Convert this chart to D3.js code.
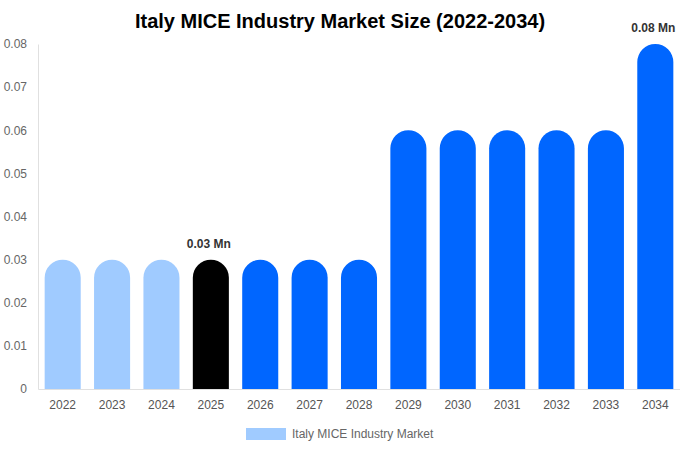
<!DOCTYPE html>
<html>
<head>
<meta charset="utf-8">
<script src="https://cdn.jsdelivr.net/npm/d3@7"></script>
<style>
body { margin: 0; background: #fff; }
svg { font-family: "Liberation Sans", Arial, sans-serif; }
</style>
</head>
<body>
<svg width="680" height="450"></svg>
<script>
var years = ["2022","2023","2024","2025","2026","2027","2028","2029","2030","2031","2032","2033","2034"];
var values = [0.03,0.03,0.03,0.03,0.03,0.03,0.03,0.06,0.06,0.06,0.06,0.06,0.08];
var yTicks = [0,0.01,0.02,0.03,0.04,0.05,0.06,0.07,0.08];
var labelled = {"2025": "0.03 Mn", "2034": "0.08 Mn"};

var svg = d3.select('svg');
var plotLeft = 38, plotRight = 680, plotTop = 44, plotBottom = 389;

var x = d3.scaleBand()
    .domain(years)
    .range([plotLeft, plotRight])
    .paddingInner(0.27)
    .paddingOuter(0.135);

var y = d3.scaleLinear()
    .domain([0, 0.08])
    .range([plotBottom, plotTop]);

function barColor(yr) {
    var n = +yr;
    if (n < 2025) return '#a0cbff';
    if (n === 2025) return '#000000';
    return '#0066ff';
}

// title
svg.append('text')
    .attr('x', 340).attr('y', 28)
    .attr('text-anchor', 'middle')
    .style('font-size', '20px').style('font-weight', 'bold').style('fill', '#000')
    .text('Italy MICE Industry Market Size (2022-2034)');

// y axis
var yAxis = svg.append('g')
    .attr('transform', 'translate(' + plotLeft + ',0)')
    .call(d3.axisLeft(y).tickValues(yTicks).tickSize(0).tickPadding(11)
        .tickFormat(function(d) { return d === 0 ? '0' : d3.format('.2f')(d); }));
yAxis.select('.domain').attr('stroke', '#e0e0e0');
yAxis.selectAll('text').style('font-size', '12px').style('fill', '#666');

// bars with rounded tops
var bw = x.bandwidth(), r = bw / 2;
svg.selectAll('path.bar')
    .data(years)
    .enter()
    .append('path')
    .attr('class', 'bar')
    .attr('fill', function(d) { return barColor(d); })
    .attr('d', function(d, i) {
        var x0 = x(d), yt = y(values[i]), yb = y(0);
        return 'M' + x0 + ',' + yb +
            'L' + x0 + ',' + (yt + r) +
            'A' + r + ',' + r + ' 0 0 1 ' + (x0 + bw) + ',' + (yt + r) +
            'L' + (x0 + bw) + ',' + yb + 'Z';
    });

// x axis
var xAxis = svg.append('g')
    .attr('transform', 'translate(0,' + plotBottom + ')')
    .call(d3.axisBottom(x).tickSize(0).tickPadding(11));
xAxis.select('.domain').attr('stroke', '#e0e0e0');
xAxis.selectAll('text').style('font-size', '12px').style('fill', '#555');

// value labels
svg.selectAll('text.val')
    .data(years.filter(function(d) { return labelled[d]; }))
    .enter()
    .append('text')
    .attr('class', 'val')
    .attr('x', function(d) { return x(d) + bw / 2 - 2; })
    .attr('y', function(d) { return y(values[years.indexOf(d)]) - 12; })
    .attr('text-anchor', 'middle')
    .style('font-size', '12px').style('font-weight', 'bold').style('fill', '#333')
    .text(function(d) { return labelled[d]; });

// legend
svg.append('rect')
    .attr('x', 246).attr('y', 428).attr('width', 40).attr('height', 12)
    .attr('fill', '#a0cbff');
svg.append('text')
    .attr('x', 292).attr('y', 438)
    .style('font-size', '12px').style('fill', '#666')
    .text('Italy MICE Industry Market');
</script>
</body>
</html>
